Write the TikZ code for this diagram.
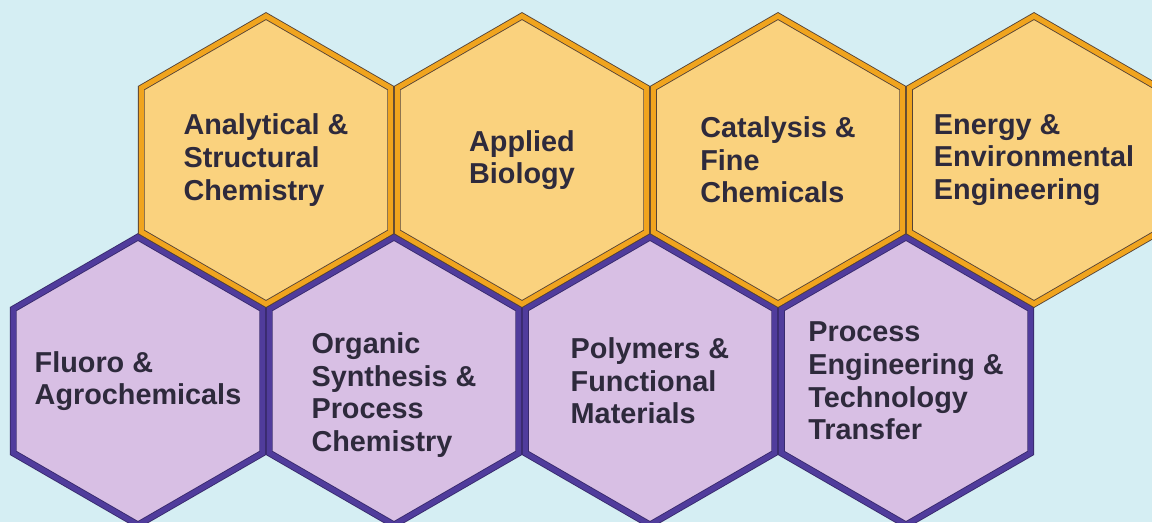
\documentclass[tikz,border=0pt]{standalone}
\usepackage{fontspec}
\setmainfont{Liberation Sans}
\usetikzlibrary{shapes.geometric,positioning}
\definecolor{hexSky}{RGB}{213, 238, 243}
\definecolor{hexGold}{RGB}{250, 210, 126}
\definecolor{hexGoldRim}{RGB}{240, 164, 30}
\definecolor{hexLilac}{RGB}{216, 191, 228}
\definecolor{hexIndigo}{RGB}{80, 60, 156}
\definecolor{hexInk}{RGB}{46, 42, 60}

\begin{document}
\begin{tikzpicture}[x=0.02cm,y=0.02cm,
    hexcell/.style={regular polygon, regular polygon sides=6, shape border rotate=30,
        minimum size=5.76cm, inner sep=0pt, outer sep=0pt},
    goldcell/.style={hexcell, fill=hexGold, draw=hexInk!80!hexGoldRim,
        line width=0.5pt, double=hexGoldRim, double distance=2.9pt},
    lilaccell/.style={hexcell, fill=hexLilac, draw=hexIndigo!70!black,
        line width=0.5pt, double=hexIndigo, double distance=2.9pt},
    celltext/.style={inner sep=0pt, text=hexInk, align=left,
        font=\bfseries\fontsize{16.4}{18.6}\selectfont}]
            \fill[hexSky] (0,0) rectangle (1152,522);
            \useasboundingbox (0,0) rectangle (1152,522);

            % lower row
            \node[lilaccell] (fluoro) at (138,141) {};
            \node[lilaccell] (organic) at (394,141) {};
            \node[lilaccell] (polymers) at (650,141) {};
            \node[lilaccell] (process) at (906,141) {};

            % upper row
            \node[goldcell] (analytical) at (266,362) {};
            \node[goldcell] (biology) at (522,362) {};
            \node[goldcell] (catalysis) at (778,362) {};
            \node[goldcell] (energy) at (1034,362) {};

            \node[celltext] (fluoro-txt) at (fluoro) {Fluoro \&\\Agrochemicals};
            \node[celltext] (organic-txt) at ([yshift=-8]organic.center) {Organic\\Synthesis \&\\Process\\Chemistry};
            \node[celltext] (polymers-txt) at (polymers) {Polymers \&\\Functional\\Materials};
            \node[celltext] (process-txt) at (process) {Process\\Engineering \&\\Technology\\Transfer};
            \node[celltext] (analytical-txt) at (analytical) {Analytical \&\\Structural\\Chemistry};
            \node[celltext] (biology-txt) at (biology) {Applied\\Biology};
            \node[celltext] (catalysis-txt) at (catalysis) {Catalysis \&\\Fine\\Chemicals};
            \node[celltext] (energy-txt) at (energy) {Energy \&\\Environmental\\Engineering};
        \end{tikzpicture}
\end{document}
